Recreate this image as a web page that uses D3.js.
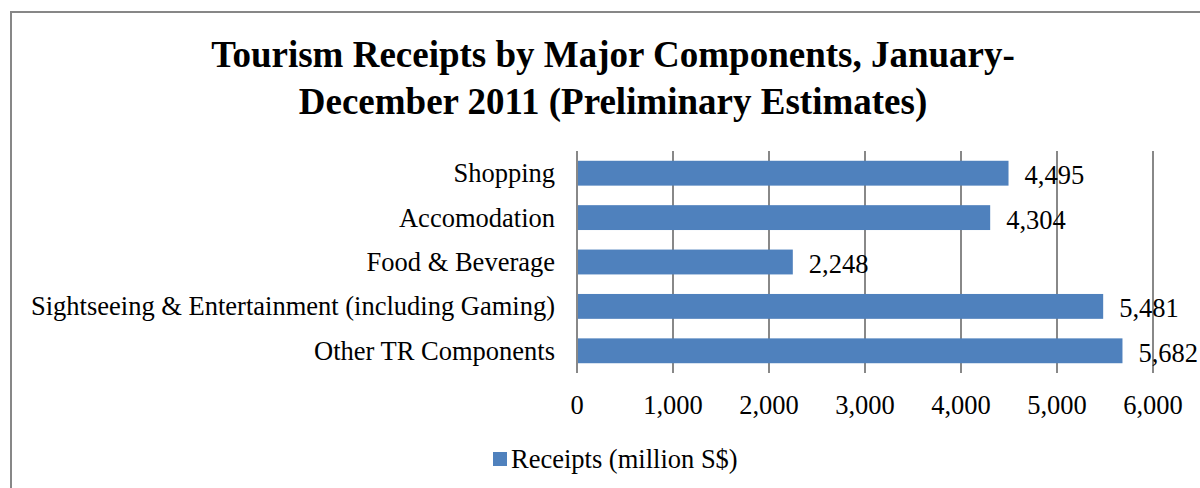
<!DOCTYPE html>
<html><head><meta charset="utf-8">
<script src="https://cdn.jsdelivr.net/npm/d3@7"></script>
<style>body{margin:0;background:#fff}svg{display:block}</style>
</head><body>
<script>
const categories = ["Shopping","Accomodation","Food & Beverage","Sightseeing & Entertainment (including Gaming)","Other TR Components"];
const values = [4495,4304,2248,5481,5682];
const tickValues = [0,1000,2000,3000,4000,5000,6000];
const titleLines = ["Tourism Receipts by Major Components, January-","December 2011 (Preliminary Estimates)"];
const seriesName = "Receipts (million S$)";

const W=1200,H=488;
const svg=d3.select("body").append("svg").attr("width",W).attr("height",H);
const font="'Liberation Serif','Times New Roman',serif";
const fs=26.5;
svg.append("rect").attr("x",11).attr("y",12).attr("width",1200).attr("height",500)
  .attr("fill","#fff").attr("stroke","#878787").attr("stroke-width",2);

svg.selectAll("text.title").data(titleLines).join("text").attr("class","title")
  .attr("x",613).attr("y",(d,i)=>67+i*47).attr("text-anchor","middle")
  .attr("font-family",font).attr("font-weight","bold").attr("font-size",37).text(d=>d);

const x=d3.scaleLinear().domain([0,6000]).range([577,1153]);
const y=d3.scaleBand().domain(categories).range([151,373]).paddingInner(0.44).paddingOuter(0.22);

const g=svg.append("g");
g.selectAll("line.grid").data(tickValues.slice(1)).join("line").attr("class","grid")
  .attr("x1",d=>x(d)).attr("x2",d=>x(d)).attr("y1",151).attr("y2",373)
  .attr("stroke","#888").attr("stroke-width",2);

g.selectAll("rect.bar").data(values).join("rect").attr("class","bar")
  .attr("x",x(0)).attr("y",(d,i)=>y(categories[i])).attr("width",d=>x(d)-x(0))
  .attr("height",y.bandwidth()).attr("fill","#4F81BD");

g.append("line").attr("x1",x(0)).attr("x2",x(0)).attr("y1",151).attr("y2",373)
  .attr("stroke","#888").attr("stroke-width",2);

g.selectAll("text.lab").data(values).join("text").attr("class","lab")
  .attr("x",d=>x(d)+16).attr("y",(d,i)=>y(categories[i])+y.bandwidth()/2+5)
  .attr("dominant-baseline","middle").attr("font-family",font).attr("font-size",fs)
  .attr("fill","#000").text(d=>d3.format(",")(d));

g.selectAll("text.cat").data(categories).join("text").attr("class","cat")
  .attr("x",555).attr("y",d=>y(d)+y.bandwidth()/2+3).attr("text-anchor","end")
  .attr("dominant-baseline","middle").attr("font-family",font).attr("font-size",fs).text(d=>d);

g.selectAll("text.tick").data(tickValues).join("text").attr("class","tick")
  .attr("x",d=>x(d)).attr("y",408).attr("text-anchor","middle")
  .attr("dominant-baseline","middle").attr("font-family",font).attr("font-size",fs)
  .text(d=>d3.format(",")(d));

svg.append("rect").attr("x",493).attr("y",452).attr("width",14).attr("height",14).attr("fill","#4F81BD");
svg.append("text").attr("x",511).attr("y",462).attr("dominant-baseline","middle")
  .attr("font-family",font).attr("font-size",fs).text(seriesName);
</script>
</body></html>
